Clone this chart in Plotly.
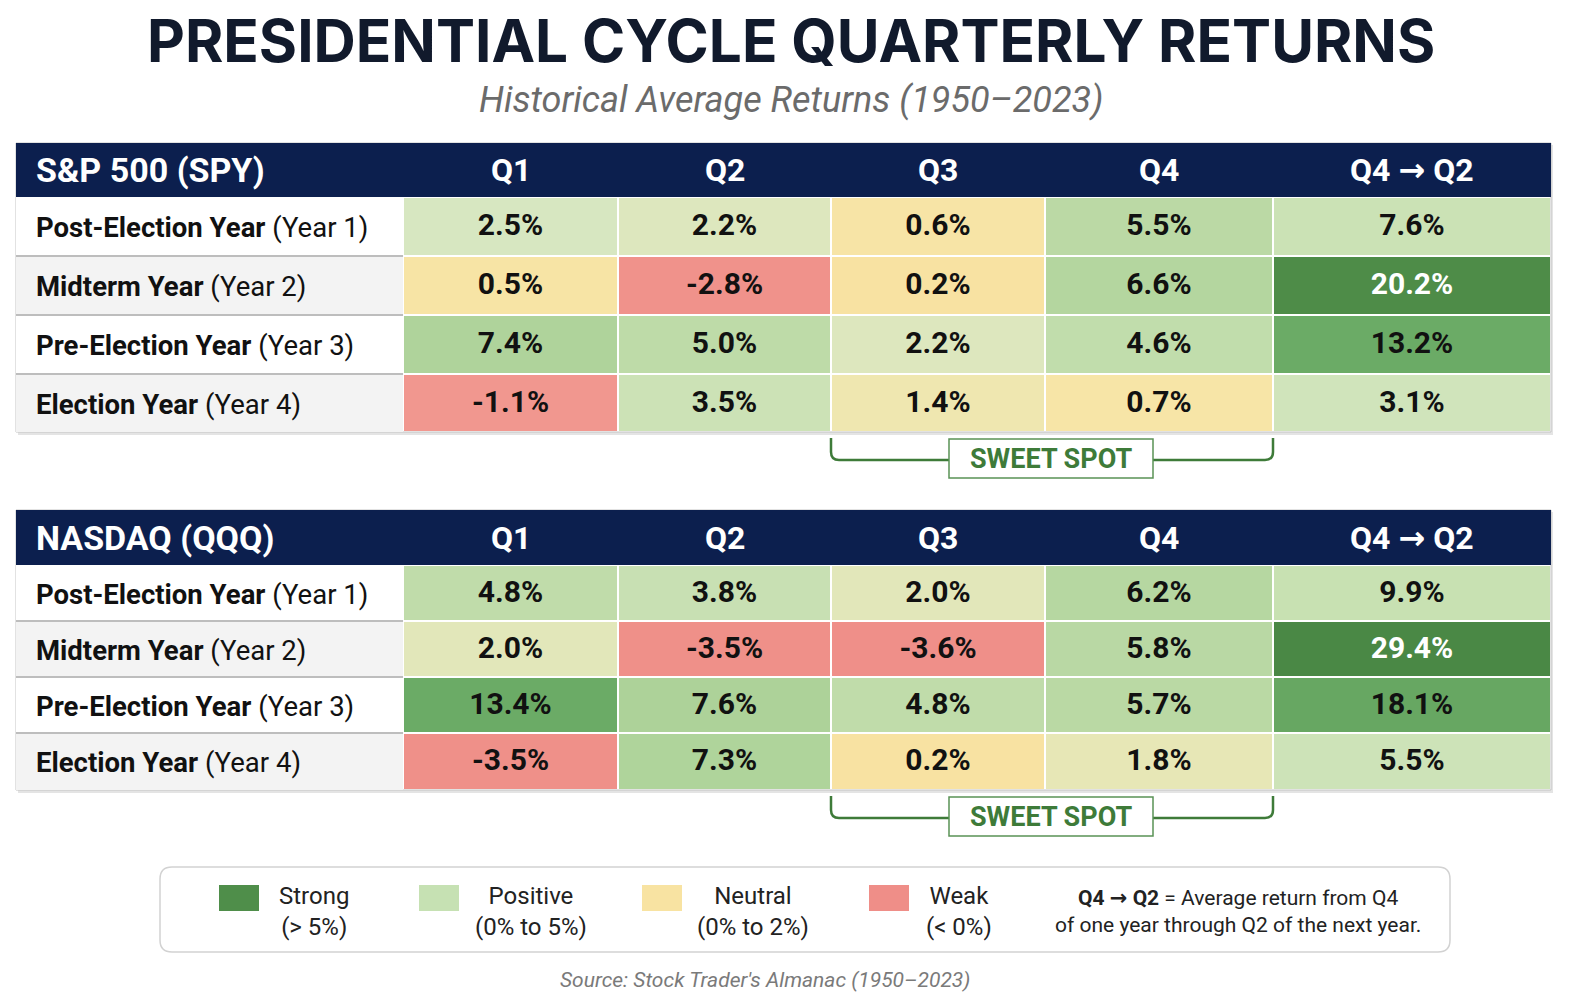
import plotly.graph_objects as go

# ---------- data ----------
row_labels = ["Post-Election Year", "Midterm Year", "Pre-Election Year", "Election Year"]
row_years = ["(Year 1)", "(Year 2)", "(Year 3)", "(Year 4)"]
quarters = ["Q1", "Q2", "Q3", "Q4"]
span_label = "Q4 <span style=\"font-family:'DejaVu Sans'\">→</span> Q2"

spy_q1 = [2.5, 0.5, 7.4, -1.1]
spy_q2 = [2.2, -2.8, 5.0, 3.5]
spy_q3 = [0.6, 0.2, 2.2, 1.4]
spy_q4 = [5.5, 6.6, 4.6, 0.7]
spy_q4q2 = [7.6, 20.2, 13.2, 3.1]

qqq_q1 = [4.8, 2.0, 13.4, -3.5]
qqq_q2 = [3.8, -3.5, 7.6, 7.3]
qqq_q3 = [2.0, -3.6, 4.8, 0.2]
qqq_q4 = [6.2, 5.8, 5.7, 1.8]
qqq_q4q2 = [9.9, 29.4, 18.1, 5.5]

legend_names = ["Strong", "Positive", "Neutral", "Weak"]
legend_ranges = ["(> 5%)", "(0% to 5%)", "(0% to 2%)", "(< 0%)"]
legend_colors = ["#4F8E4A", "#C6E1B3", "#F8E3A2", "#EF8E88"]

# ---------- layout geometry (pixels) ----------
W, H = 1570, 1002
TX0, TX1 = 16, 1551
COL_EDGES = [403, 618, 831, 1045, 1273]     # quarter columns
SPAN_EDGES = [1273, 1551]                   # Q4 -> Q2 column
LABEL_X = 34
FONT = "Roboto"
NAVY = "#0C1F4E"
GREEN = "#3E7B39"
ARROW = "<span style=\"font-family:'DejaVu Sans'\">→</span>"

tables = [
    dict(name="S&P 500 (SPY)", top=143, rows=[197, 256, 315, 374, 432],
         q=[spy_q1, spy_q2, spy_q3, spy_q4], span=spy_q4q2),
    dict(name="NASDAQ (QQQ)", top=510, rows=[565, 621, 677, 733, 790],
         q=[qqq_q1, qqq_q2, qqq_q3, qqq_q4], span=qqq_q4q2),
]


def scale(stops, zmin, zmax):
    return [[(v - zmin) / (zmax - zmin), c] for v, c in stops]


Q_MIN, Q_MAX = -4, 14
q_scale = scale([(-4, "#EF8E88"), (-0.01, "#F29A92"), (0, "#F8E1A0"), (0.8, "#F7E5A8"),
                 (1.6, "#ECE7B2"), (2.4, "#D8E7C2"), (4.0, "#C6DFB1"), (5.0, "#BEDBA8"),
                 (7.5, "#AED39A"), (10.5, "#88C07D"), (13.5, "#6AAA65"), (14, "#68A863")],
                Q_MIN, Q_MAX)
S_MIN, S_MAX = 0, 30
s_scale = scale([(0, "#D3E6BF"), (10, "#C8E1B2"), (11.5, "#77B270"), (13, "#6BAB66"),
                 (18.5, "#67A762"), (19.8, "#4E8C48"), (30, "#4A8845")],
                S_MIN, S_MAX)

fig = go.Figure()
shapes = []
annotations = []

for t in tables:
    rows = t["rows"]
    top = t["top"]
    bottom = rows[-1]
    # shadow + border
    shapes.append(dict(type="rect", x0=TX0 + 2, x1=TX1 + 2, y0=top + 2, y1=bottom + 3,
                       fillcolor="#E4E4E4", line=dict(width=0), layer="below"))
    shapes.append(dict(type="rect", x0=TX0, x1=TX1, y0=top, y1=bottom,
                       fillcolor="white", line=dict(color="#C4C4C4", width=1), layer="below"))
    shapes.append(dict(type="rect", x0=TX0, x1=TX1, y0=top, y1=rows[0],
                       fillcolor=NAVY, line=dict(width=0), layer="below"))
    for i in range(4):
        shapes.append(dict(type="rect", x0=TX0, x1=COL_EDGES[0], y0=rows[i], y1=rows[i + 1],
                           fillcolor="white" if i % 2 == 0 else "#F3F3F3",
                           line=dict(width=0), layer="below"))
        if i > 0:
            shapes.append(dict(type="line", x0=TX0, x1=COL_EDGES[0], y0=rows[i], y1=rows[i],
                               line=dict(color="#BDBDBD", width=2)))

    # header text
    hy = (top + rows[0]) / 2
    annotations.append(dict(x=LABEL_X, y=hy, text="<b>" + t["name"] + "</b>", xanchor="left",
                            showarrow=False, font=dict(family=FONT, size=34, color="white")))
    for j, q in enumerate(quarters):
        annotations.append(dict(x=(COL_EDGES[j] + COL_EDGES[j + 1]) / 2, y=hy, text="<b>" + q + "</b>",
                                showarrow=False, font=dict(family=FONT, size=32, color="white")))
    annotations.append(dict(x=sum(SPAN_EDGES) / 2, y=hy, text="<b>" + span_label + "</b>",
                            showarrow=False, font=dict(family=FONT, size=32, color="white")))

    # row labels
    for i in range(4):
        annotations.append(dict(x=LABEL_X, y=(rows[i] + rows[i + 1]) / 2 + 1, xanchor="left",
                                text="<b>" + row_labels[i] + "</b> " + row_years[i], showarrow=False,
                                font=dict(family=FONT, size=27.5, color="#111111")))

    # quarter cells
    z = [[t["q"][j][i] for j in range(4)] for i in range(4)]
    fig.add_trace(go.Heatmap(x=COL_EDGES, y=rows, z=z, colorscale=q_scale, zmin=Q_MIN, zmax=Q_MAX,
                             xgap=2, ygap=2, showscale=False, hoverinfo="skip"))
    fig.add_trace(go.Heatmap(x=SPAN_EDGES, y=rows, z=[[v] for v in t["span"]], colorscale=s_scale,
                             zmin=S_MIN, zmax=S_MAX, xgap=2, ygap=2, showscale=False, hoverinfo="skip"))

    # cell values
    xs, ys, txt, clr = [], [], [], []
    for i in range(4):
        cy = (rows[i] + rows[i + 1]) / 2 + 1
        for j in range(4):
            xs.append((COL_EDGES[j] + COL_EDGES[j + 1]) / 2)
            ys.append(cy)
            txt.append("<b>%.1f%%</b>" % t["q"][j][i])
            clr.append("#111111")
        v = t["span"][i]
        xs.append(sum(SPAN_EDGES) / 2)
        ys.append(cy)
        txt.append("<b>%.1f%%</b>" % v)
        clr.append("white" if v > 19 else "#111111")
    fig.add_trace(go.Scatter(x=xs, y=ys, text=txt, mode="text", textposition="middle center",
                             textfont=dict(family=FONT, size=30, color=clr), hoverinfo="skip"))

    # sweet spot bracket (Q3..Q4)
    b0, b1 = COL_EDGES[2], COL_EDGES[4]
    by0 = bottom + 6
    by1 = bottom + 28
    box0, box1 = 949, 1153
    shapes.append(dict(type="path",
                       path="M %d,%d L %d,%d Q %d,%d %d,%d L %d,%d" % (b0, by0, b0, by1 - 8, b0, by1, b0 + 8, by1, box0, by1),
                       line=dict(color=GREEN, width=2.5)))
    shapes.append(dict(type="path",
                       path="M %d,%d L %d,%d Q %d,%d %d,%d L %d,%d" % (box1, by1, b1 - 8, by1, b1, by1, b1, by1 - 8, b1, by0),
                       line=dict(color=GREEN, width=2.5)))
    shapes.append(dict(type="rect", x0=box0, x1=box1, y0=bottom + 7, y1=bottom + 46,
                       fillcolor="white", line=dict(color="#5A9255", width=1.5)))
    annotations.append(dict(x=(box0 + box1) / 2, y=bottom + 27, text="<b>SWEET SPOT</b>", showarrow=False,
                            font=dict(family=FONT, size=27, color=GREEN)))

# ---------- legend ----------
lx0, lx1, ly0, ly1, r = 160, 1450, 867, 952, 12
shapes.append(dict(type="path",
                   path=("M %d,%d L %d,%d Q %d,%d %d,%d L %d,%d Q %d,%d %d,%d L %d,%d Q %d,%d %d,%d "
                         "L %d,%d Q %d,%d %d,%d Z") % (
                       lx0 + r, ly0, lx1 - r, ly0, lx1, ly0, lx1, ly0 + r, lx1, ly1 - r, lx1, ly1, lx1 - r, ly1,
                       lx0 + r, ly1, lx0, ly1, lx0, ly1 - r, lx0, ly0 + r, lx0, ly0, lx0 + r, ly0),
                   fillcolor="white", line=dict(color="#D2D2D2", width=1.5), layer="below"))
sw_x = [219, 419, 642, 869]
lab_x = [314, 531, 753, 959]
for k in range(4):
    shapes.append(dict(type="rect", x0=sw_x[k], x1=sw_x[k] + 40, y0=885, y1=911,
                       fillcolor=legend_colors[k], line=dict(width=0)))
    annotations.append(dict(x=lab_x[k], y=911, text=legend_names[k] + "<br>" + legend_ranges[k],
                            showarrow=False, align="center",
                            font=dict(family=FONT, size=24, color="#222222")))
annotations.append(dict(x=1238, y=911, align="center", showarrow=False,
                        text="<b>Q4 " + ARROW + " Q2</b> = Average return from Q4<br>of one year through Q2 of the next year.",
                        font=dict(family=FONT, size=21, color="#222222")))

# ---------- titles ----------
annotations.append(dict(x=791, y=40, text="<b>PRESIDENTIAL CYCLE QUARTERLY RETURNS</b>", showarrow=False,
                        font=dict(family="Inter", size=58.5, color="#111A2C", weight=800)))
annotations.append(dict(x=791, y=100, text="<i>Historical Average Returns (1950–2023)</i>", showarrow=False,
                        font=dict(family=FONT, size=36, color="#6B6B6B")))
annotations.append(dict(x=765, y=980, text="<i>Source: Stock Trader's Almanac (1950–2023)</i>", showarrow=False,
                        font=dict(family=FONT, size=21, color="#7A7A7A")))

for a in annotations:
    a["xref"] = "x"
    a["yref"] = "y"
for s in shapes:
    s["xref"] = "x"
    s["yref"] = "y"

fig.update_layout(
    width=W, height=H,
    margin=dict(l=0, r=0, t=0, b=0),
    paper_bgcolor="white", plot_bgcolor="white",
    showlegend=False,
    xaxis=dict(range=[0, W], visible=False, fixedrange=True),
    yaxis=dict(range=[H, 0], visible=False, fixedrange=True),
    shapes=shapes,
    annotations=annotations,
)

fig.write_html("out.html", config={"displayModeBar": False},
               post_script="document.body.style.margin='0';")
